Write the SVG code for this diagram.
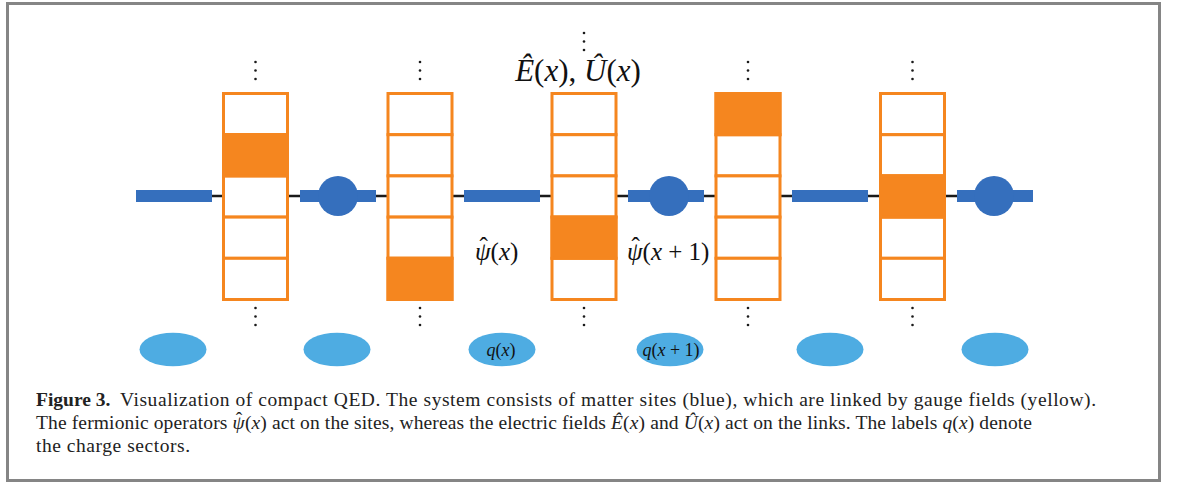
<svg xmlns="http://www.w3.org/2000/svg" width="1179" height="483" viewBox="0 0 1179 483">
<style>
.frame{fill:none;stroke:#858585;stroke-width:3}
.cell{fill:#fff;stroke:#f5861f;stroke-width:3}
.full{fill:#f5861f;stroke:#f5861f;stroke-width:3}
.bar{fill:#356fbd}
.site{fill:#356fbd}
.sector{fill:#4eace2}
.dot{fill:#1a1a1a}
.math{font-family:"Liberation Serif","Times New Roman",serif;fill:#111}
.it{font-style:italic}
.cap{font-family:"Liberation Serif","Times New Roman",serif;font-size:19.5px;fill:#222}
</style>
<defs>
<g id="vdots"><circle cx="0" cy="0" r="1.3" class="dot"/><circle cx="0" cy="8.5" r="1.3" class="dot"/><circle cx="0" cy="17" r="1.3" class="dot"/></g>
<g id="col">
<rect x="-32" y="93.5" width="64" height="41.2" class="cell"/>
<rect x="-32" y="134.7" width="64" height="41.2" class="cell"/>
<rect x="-32" y="175.9" width="64" height="41.2" class="cell"/>
<rect x="-32" y="217.1" width="64" height="41.2" class="cell"/>
<rect x="-32" y="258.3" width="64" height="41.2" class="cell"/>
</g>
</defs>
<rect class="frame" x="7.5" y="3.5" width="1152" height="477"/>

<g id="connectors">
<line x1="136" y1="196" x2="1032" y2="196" stroke="#1a1a1a" stroke-width="2.5"/>
<rect class="bar" x="136" y="190" width="76" height="12"/>
<rect class="bar" x="300" y="190" width="76" height="12"/>
<rect class="bar" x="464" y="190" width="76" height="12"/>
<rect class="bar" x="628" y="190" width="76" height="12"/>
<rect class="bar" x="792" y="190" width="76" height="12"/>
<rect class="bar" x="957" y="190" width="76" height="12"/>
</g>

<g id="site1"><circle class="site" cx="338" cy="196" r="20"/></g>
<g id="site2"><circle class="site" cx="669" cy="196" r="20"/></g>
<g id="site3"><circle class="site" cx="994" cy="196" r="20"/></g>

<g id="link1" transform="translate(255.5,0)">
<use href="#col"/>
<rect x="-32" y="134.7" width="64" height="41.2" class="full"/>
<use href="#vdots" y="62"/><use href="#vdots" y="308"/>
</g>
<g id="link2" transform="translate(420,0)">
<use href="#col"/>
<rect x="-32" y="258.3" width="64" height="41.2" class="full"/>
<use href="#vdots" y="62"/><use href="#vdots" y="308"/>
</g>
<g id="link3" transform="translate(584,0)">
<use href="#col"/>
<rect x="-32" y="217.1" width="64" height="41.2" class="full"/>
<use href="#vdots" y="33"/><use href="#vdots" y="308"/>
</g>
<g id="link4" transform="translate(748,0)">
<use href="#col"/>
<rect x="-32" y="93.5" width="64" height="41.2" class="full"/>
<use href="#vdots" y="62"/><use href="#vdots" y="308"/>
</g>
<g id="link5" transform="translate(912.5,0)">
<use href="#col"/>
<rect x="-32" y="175.9" width="64" height="41.2" class="full"/>
<use href="#vdots" y="62"/><use href="#vdots" y="308"/>
</g>

<g id="sectors">
<ellipse class="sector" cx="173" cy="349.5" rx="33.5" ry="16.8"/>
<ellipse class="sector" cx="337" cy="349.5" rx="33.5" ry="16.8"/>
<ellipse class="sector" cx="502" cy="349.5" rx="33.5" ry="16.8"/>
<ellipse class="sector" cx="670" cy="349.5" rx="33.5" ry="16.8"/>
<ellipse class="sector" cx="830" cy="349.5" rx="33.5" ry="16.8"/>
<ellipse class="sector" cx="995" cy="349.5" rx="33.5" ry="16.8"/>
<text class="math" x="501" y="356" font-size="18" text-anchor="middle"><tspan class="it">q</tspan>(<tspan class="it">x</tspan>)</text>
<text class="math" x="671" y="356" font-size="18" text-anchor="middle"><tspan class="it">q</tspan>(<tspan class="it">x</tspan> + 1)</text>
</g>

<g id="labels">
<text class="math" x="578" y="81" font-size="31" text-anchor="middle"><tspan class="it">Ê</tspan>(<tspan class="it">x</tspan>), <tspan class="it">Û</tspan>(<tspan class="it">x</tspan>)</text>
<text class="math" x="475" y="260" font-size="25"><tspan class="it">ψ</tspan><tspan dx="-11" dy="-5">ˆ</tspan><tspan dx="2.7" dy="5">(</tspan><tspan class="it">x</tspan>)</text>
<text class="math" x="627" y="260" font-size="25"><tspan class="it">ψ</tspan><tspan dx="-11" dy="-5">ˆ</tspan><tspan dx="2.7" dy="5">(</tspan><tspan class="it">x</tspan> + 1)</text>
</g>

<g id="caption">
<text class="cap" x="36" y="406" font-weight="bold">Figure 3.</text>
<text class="cap" x="120" y="406" textLength="976" lengthAdjust="spacing">Visualization of compact QED. The system consists of matter sites (blue), which are linked by gauge fields (yellow).</text>
<text class="cap" x="36" y="429" textLength="996" lengthAdjust="spacing">The fermionic operators <tspan class="it">ψ</tspan><tspan dx="-9" dy="-4">ˆ</tspan><tspan dx="2.5" dy="4">(</tspan><tspan class="it">x</tspan>) act on the sites, whereas the electric fields <tspan class="it">Ê</tspan>(<tspan class="it">x</tspan>) and <tspan class="it">Û</tspan>(<tspan class="it">x</tspan>) act on the links. The labels <tspan class="it">q</tspan>(<tspan class="it">x</tspan>) denote</text>
<text class="cap" x="36" y="452" textLength="154" lengthAdjust="spacing">the charge sectors.</text>
</g>
</svg>
